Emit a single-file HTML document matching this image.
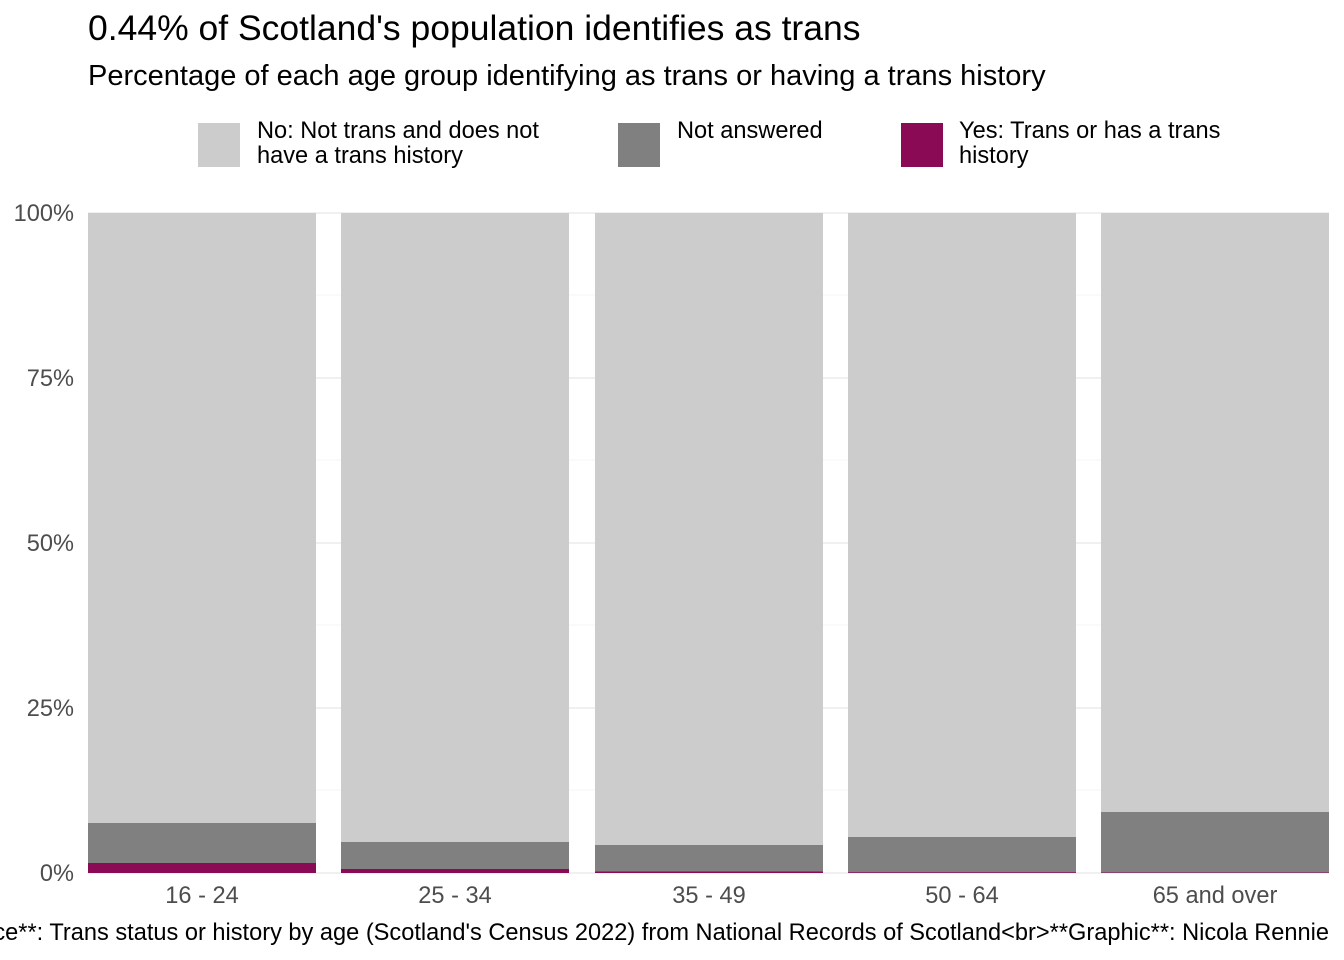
<!DOCTYPE html>
<html><head><style>html,body{margin:0;padding:0;background:#fff}svg{display:block}</style></head>
<body>
<svg width="1344" height="960" xmlns="http://www.w3.org/2000/svg" font-family="Liberation Sans, sans-serif">
<rect width="1344" height="960" fill="#fff"/>
<text x="88" y="40" font-size="35.5" fill="#000">0.44% of Scotland's population identifies as trans</text>
<text x="88" y="85" font-size="29" fill="#000">Percentage of each age group identifying as trans or having a trans history</text>
<rect x="198" y="123" width="42" height="44" fill="#cccccc"/>
<text x="257" y="138" font-size="23.6">No: Not trans and does not</text>
<text x="257" y="163" font-size="23.6">have a trans history</text>
<rect x="618" y="123" width="42" height="44" fill="#808080"/>
<text x="677" y="138" font-size="23.6">Not answered</text>
<rect x="901" y="123" width="42" height="44" fill="#8b0a55"/>
<text x="959" y="138" font-size="23.6">Yes: Trans or has a trans</text>
<text x="959" y="163" font-size="23.6">history</text>
<g stroke="#ebebeb" stroke-width="1.4">
<line x1="88" x2="1329" y1="873" y2="873"/><line x1="88" x2="1329" y1="708" y2="708"/>
<line x1="88" x2="1329" y1="543" y2="543"/><line x1="88" x2="1329" y1="378" y2="378"/>
<line x1="88" x2="1329" y1="213" y2="213"/>
</g>
<g stroke="#f5f5f5" stroke-width="1">
<line x1="88" x2="1329" y1="790" y2="790"/><line x1="88" x2="1329" y1="625" y2="625"/>
<line x1="88" x2="1329" y1="460" y2="460"/><line x1="88" x2="1329" y1="295" y2="295"/>
</g>
<g font-size="23.6" fill="#4d4d4d" text-anchor="end">
<text x="74" y="881">0%</text><text x="74" y="716">25%</text><text x="74" y="551">50%</text>
<text x="74" y="386">75%</text><text x="74" y="221">100%</text>
</g>
<g>
<rect x="88" y="213" width="228" height="660" fill="#cccccc"/>
<rect x="88" y="823" width="228" height="50" fill="#808080"/>
<rect x="88" y="863" width="228" height="10" fill="#8b0a55"/>
<rect x="341" y="213" width="228" height="660" fill="#cccccc"/>
<rect x="341" y="842" width="228" height="31" fill="#808080"/>
<rect x="341" y="869" width="228" height="4" fill="#8b0a55"/>
<rect x="595" y="213" width="228" height="660" fill="#cccccc"/>
<rect x="595" y="845" width="228" height="28" fill="#808080"/>
<rect x="595" y="871.5" width="228" height="1.5" fill="#8b0a55"/>
<rect x="848" y="213" width="228" height="660" fill="#cccccc"/>
<rect x="848" y="837" width="228" height="36" fill="#808080"/>
<rect x="848" y="872.3" width="228" height="0.7" fill="#8b0a55"/>
<rect x="1101" y="213" width="228" height="660" fill="#cccccc"/>
<rect x="1101" y="812" width="228" height="61" fill="#808080"/>
<rect x="1101" y="872.5" width="228" height="0.5" fill="#8b0a55"/>
</g>
<g font-size="23.6" fill="#4d4d4d" text-anchor="middle">
<text x="202" y="903">16 - 24</text><text x="455" y="903">25 - 34</text><text x="709" y="903">35 - 49</text>
<text x="962" y="903">50 - 64</text><text x="1215" y="903">65 and over</text>
</g>
<text x="1329" y="940" font-size="23.6" fill="#000" text-anchor="end">**Source**: Trans status or history by age (Scotland's Census 2022) from National Records of Scotland&lt;br&gt;**Graphic**: Nicola Rennie</text>
</svg>
</body></html>
